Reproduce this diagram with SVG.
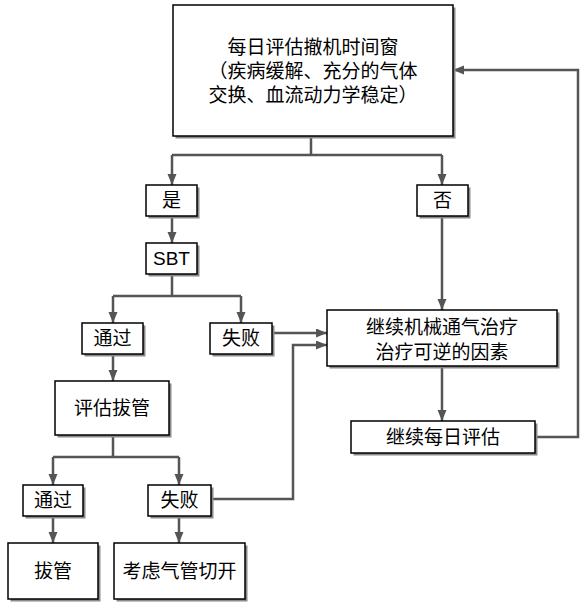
<svg xmlns="http://www.w3.org/2000/svg" width="586" height="611" viewBox="0 0 586 611">
<style>
.sh{fill:#8a8a8a}
.bx{fill:#fff;stroke:#000;stroke-width:1.5}
.t{font-family:"Liberation Serif","Noto Sans CJK SC",serif;font-size:19px;fill:#000;text-anchor:middle;dominant-baseline:central}
.s{font-family:"Liberation Sans",Arial,sans-serif;font-size:19px;fill:#000;text-anchor:middle;dominant-baseline:central}
.c{fill:none;stroke:#555;stroke-width:2.5}
</style>
<defs>
<marker id="ar" markerUnits="userSpaceOnUse" markerWidth="12" markerHeight="10" refX="11" refY="4.5" orient="auto">
<path d="M0,0 L11,4.5 L0,9 z" fill="#555"/>
</marker>
</defs>
<rect width="586" height="611" fill="#fff"/>
<g id="connectors">
<path class="c" d="M311,136 V155 M172,155 H442"/>
<path class="c" d="M172,155 V185" marker-end="url(#ar)"/>
<path class="c" d="M442,155 V185" marker-end="url(#ar)"/>
<path class="c" d="M172,216 V243" marker-end="url(#ar)"/>
<path class="c" d="M172,274 V296 M113,296 H241"/>
<path class="c" d="M113,296 V323" marker-end="url(#ar)"/>
<path class="c" d="M241,296 V323" marker-end="url(#ar)"/>
<path class="c" d="M272,333 H327" marker-end="url(#ar)"/>
<path class="c" d="M113,354 V381" marker-end="url(#ar)"/>
<path class="c" d="M113,435 V457 M53,457 H179"/>
<path class="c" d="M53,457 V485" marker-end="url(#ar)"/>
<path class="c" d="M179,457 V485" marker-end="url(#ar)"/>
<path class="c" d="M53,516 V543" marker-end="url(#ar)"/>
<path class="c" d="M179,516 V543" marker-end="url(#ar)"/>
<path class="c" d="M211,499 H293 V345 H327" marker-end="url(#ar)"/>
<path class="c" d="M442,216 V310" marker-end="url(#ar)"/>
<path class="c" d="M442,366 V421" marker-end="url(#ar)"/>
<path class="c" d="M535,437 H578 V70 H453" marker-end="url(#ar)"/>
</g>
<g id="n-top">
<rect class="sh" x="175.5" y="7.5" width="280" height="131"/>
<rect class="bx" x="173" y="5" width="280" height="131"/>
<text class="t" x="313" y="47">每日评估撤机时间窗</text>
<text class="t" x="313" y="71">（疾病缓解、充分的气体</text>
<text class="t" x="313" y="95">交换、血流动力学稳定）</text>
</g>
<g id="n-yes">
<rect class="sh" x="148.5" y="187.5" width="51" height="31"/>
<rect class="bx" x="146" y="185" width="51" height="31"/>
<text class="t" x="171.5" y="200.5">是</text>
</g>
<g id="n-no">
<rect class="sh" x="419.5" y="187.5" width="51" height="31"/>
<rect class="bx" x="417" y="185" width="51" height="31"/>
<text class="t" x="442.5" y="200.5">否</text>
</g>
<g id="n-sbt">
<rect class="sh" x="148.5" y="245.5" width="51" height="31"/>
<rect class="bx" x="146" y="243" width="51" height="31"/>
<text class="s" x="171.5" y="258.5">SBT</text>
</g>
<g id="n-pass1">
<rect class="sh" x="84.5" y="325.5" width="61" height="31"/>
<rect class="bx" x="82" y="323" width="61" height="31"/>
<text class="t" x="112.5" y="338.5">通过</text>
</g>
<g id="n-fail1">
<rect class="sh" x="212.5" y="325.5" width="62" height="31"/>
<rect class="bx" x="210" y="323" width="62" height="31"/>
<text class="t" x="241" y="338.5">失败</text>
</g>
<g id="n-mv">
<rect class="sh" x="329.5" y="312.5" width="230" height="56"/>
<rect class="bx" x="327" y="310" width="230" height="56"/>
<text class="t" x="442" y="327">继续机械通气治疗</text>
<text class="t" x="442" y="352">治疗可逆的因素</text>
</g>
<g id="n-daily">
<rect class="sh" x="353.5" y="423.5" width="184" height="32"/>
<rect class="bx" x="351" y="421" width="184" height="32"/>
<text class="t" x="443" y="437">继续每日评估</text>
</g>
<g id="n-assess">
<rect class="sh" x="57.5" y="383.5" width="114" height="54"/>
<rect class="bx" x="55" y="381" width="114" height="54"/>
<text class="t" x="112" y="408">评估拔管</text>
</g>
<g id="n-pass2">
<rect class="sh" x="25.5" y="487.5" width="60" height="31"/>
<rect class="bx" x="23" y="485" width="60" height="31"/>
<text class="t" x="53" y="500.5">通过</text>
</g>
<g id="n-fail2">
<rect class="sh" x="150.5" y="487.5" width="63" height="31"/>
<rect class="bx" x="148" y="485" width="63" height="31"/>
<text class="t" x="179.5" y="500.5">失败</text>
</g>
<g id="n-extub">
<rect class="sh" x="10.5" y="545.5" width="90" height="56"/>
<rect class="bx" x="8" y="543" width="90" height="56"/>
<text class="t" x="53" y="571">拔管</text>
</g>
<g id="n-trach">
<rect class="sh" x="116.5" y="545.5" width="131" height="56"/>
<rect class="bx" x="114" y="543" width="131" height="56"/>
<text class="t" x="179.5" y="571">考虑气管切开</text>
</g>
</svg>
